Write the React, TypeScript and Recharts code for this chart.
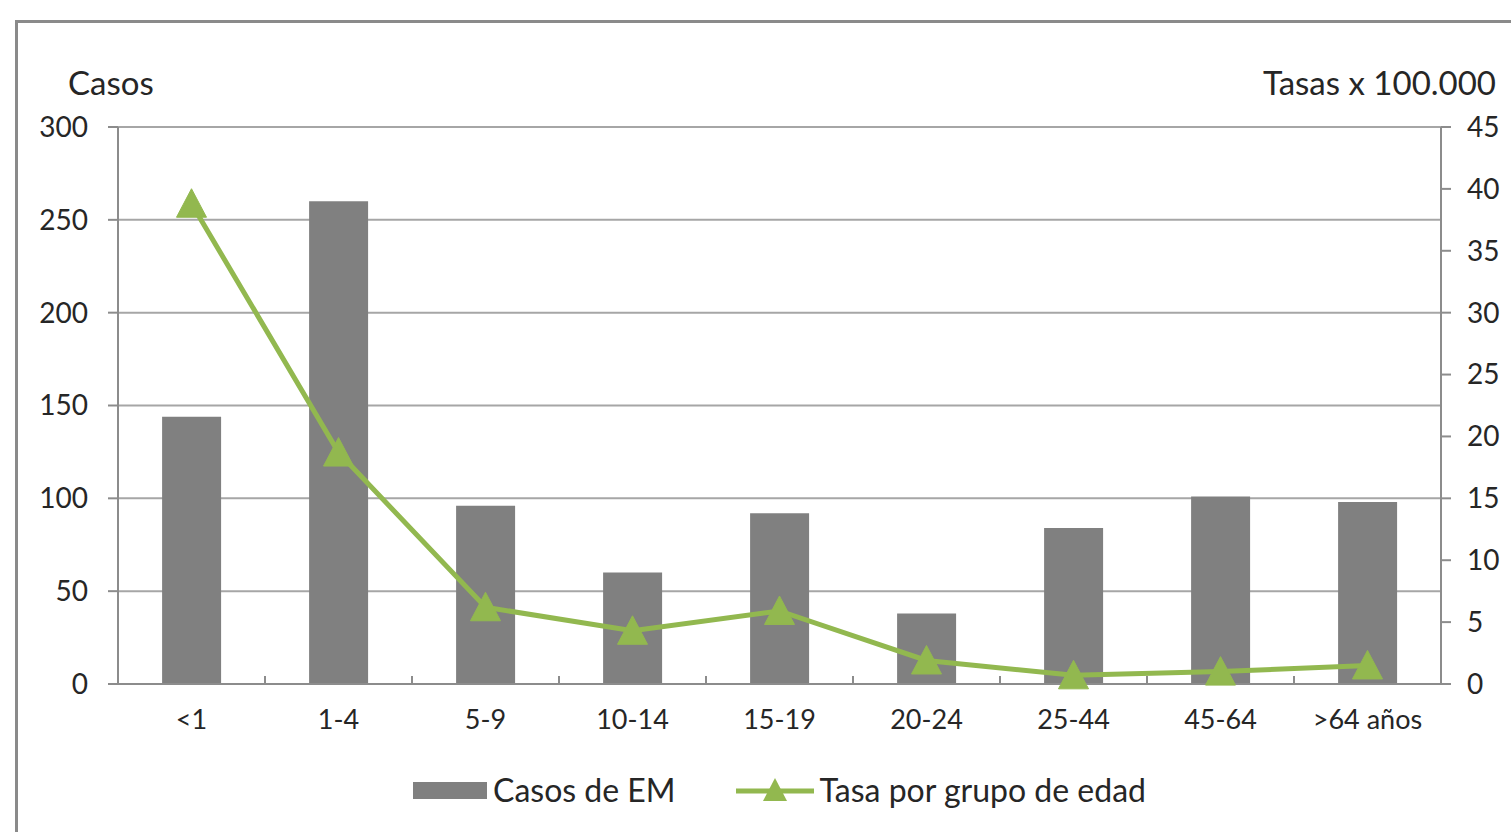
import React from "react";
import {
  ComposedChart,
  Bar,
  Line,
  XAxis,
  YAxis,
  CartesianGrid,
  Legend,
} from "recharts";

const categories = ["<1", "1-4", "5-9", "10-14", "15-19", "20-24", "25-44", "45-64", ">64 años"];
const casos = [144, 260, 96, 60, 92, 38, 84, 101, 98];
const tasas = [38.8, 18.7, 6.2, 4.3, 5.9, 1.9, 0.7, 1.0, 1.5];
const leftTicks = [0, 50, 100, 150, 200, 250, 300];
const rightTicks = [0, 5, 10, 15, 20, 25, 30, 35, 40, 45];

const data = categories.map((c, i) => ({ cat: c, casos: casos[i], tasa: tasas[i] }));

const FONT = "Lato, 'Open Sans', sans-serif";
const TEXT = "#262626";
const AXIS = "#8c8c8c";
const GRID = "#a6a6a6";
const BAR = "#808080";
const GREEN = "#92b84f";

const W = 1511;
const H = 832;
const PLOT_LEFT = 118;
const PLOT_RIGHT = 1441;
const CAT_W = (PLOT_RIGHT - PLOT_LEFT) / categories.length;

const Triangle = (props: any) => {
  const { cx, cy } = props;
  if (cx == null || cy == null) return null;
  const s = 15;
  return (
    <polygon
      points={`${cx},${cy - s} ${cx - s},${cy + s * 0.9} ${cx + s},${cy + s * 0.9}`}
      fill={GREEN}
      stroke={GREEN}
    />
  );
};

const XTick = (props: any) => {
  const { x, y, payload, index } = props;
  const axisY = y - 8;
  return (
    <g>
      <line x1={x - CAT_W / 2} x2={x - CAT_W / 2} y1={axisY - 8} y2={axisY} stroke={AXIS} strokeWidth={2} />
      {index === categories.length - 1 && (
        <line x1={x + CAT_W / 2} x2={x + CAT_W / 2} y1={axisY - 8} y2={axisY} stroke={AXIS} strokeWidth={2} />
      )}
      <text x={x} y={y + 37} textAnchor="middle" fill={TEXT} fontSize={27} fontFamily={FONT}>
        {payload.value}
      </text>
    </g>
  );
};

const LegendContent = () => (
  <div
    style={{
      display: "flex",
      alignItems: "center",
      justifyContent: "center",
      fontFamily: FONT,
      fontSize: 32,
      color: TEXT,
    }}
  >
    <svg width={74} height={20} style={{ marginRight: 6 }}>
      <rect x={0} y={2} width={74} height={17} fill={BAR} />
    </svg>
    <span style={{ marginRight: 60 }}>Casos de EM</span>
    <svg width={78} height={32} style={{ marginRight: 6 }}>
      <line x1={0} x2={78} y1={17} y2={17} stroke={GREEN} strokeWidth={5} />
      <polygon points="39,4 27,27 51,27" fill={GREEN} />
    </svg>
    <span>Tasa por grupo de edad</span>
  </div>
);

export default function App() {
  return (
    <div
      style={{
        position: "absolute",
        left: 0,
        top: 0,
        width: W,
        height: H,
        overflow: "hidden",
        background: "#fff",
      }}
    >
      <div
        style={{
          position: "absolute",
          left: 15,
          top: 20,
          width: W,
          height: H,
          border: "3px solid #8a8a8a",
          boxSizing: "border-box",
        }}
      />
      <div
        style={{
          position: "absolute",
          left: 68,
          top: 62,
          fontFamily: FONT,
          fontSize: 33,
          color: TEXT,
        }}
      >
        Casos
      </div>
      <div
        style={{
          position: "absolute",
          right: 15,
          top: 62,
          fontFamily: FONT,
          fontSize: 33,
          color: TEXT,
        }}
      >
        Tasas x 100.000
      </div>
      <div style={{ position: "absolute", left: 0, top: 0 }}>
        <ComposedChart
          width={W}
          height={H}
          data={data}
          margin={{ top: 127, right: 0, left: 0, bottom: 88 }}
          barCategoryGap="30%"
        >
          <CartesianGrid yAxisId="left" vertical={false} stroke={GRID} strokeWidth={2} />
          <XAxis
            dataKey="cat"
            height={60}
            axisLine={{ stroke: AXIS, strokeWidth: 2 }}
            tickLine={false}
            tick={<XTick />}
            interval={0}
          />
          <YAxis
            yAxisId="left"
            orientation="left"
            width={PLOT_LEFT}
            domain={[0, 300]}
            ticks={leftTicks}
            axisLine={{ stroke: AXIS, strokeWidth: 2 }}
            tickLine={{ stroke: AXIS, strokeWidth: 2 }}
            tickSize={10}
            tickMargin={20}
            tick={{ fill: TEXT, fontSize: 28, fontFamily: FONT }}
          />
          <YAxis
            yAxisId="right"
            orientation="right"
            width={W - PLOT_RIGHT}
            domain={[0, 45]}
            ticks={rightTicks}
            axisLine={{ stroke: AXIS, strokeWidth: 2 }}
            tickLine={{ stroke: AXIS, strokeWidth: 2 }}
            tickSize={10}
            tickMargin={16}
            tick={{ fill: TEXT, fontSize: 28, fontFamily: FONT }}
          />
          <Bar yAxisId="left" dataKey="casos" name="Casos de EM" fill={BAR} isAnimationActive={false} />
          <Line
            yAxisId="right"
            dataKey="tasa"
            name="Tasa por grupo de edad"
            stroke={GREEN}
            strokeWidth={5}
            dot={<Triangle />}
            activeDot={false}
            isAnimationActive={false}
          />
          <Legend
            verticalAlign="middle"
            layout="horizontal"
            content={<LegendContent />}
            wrapperStyle={{ top: 770, left: PLOT_LEFT, width: PLOT_RIGHT - PLOT_LEFT, height: 44 }}
          />
        </ComposedChart>
      </div>
    </div>
  );
}
